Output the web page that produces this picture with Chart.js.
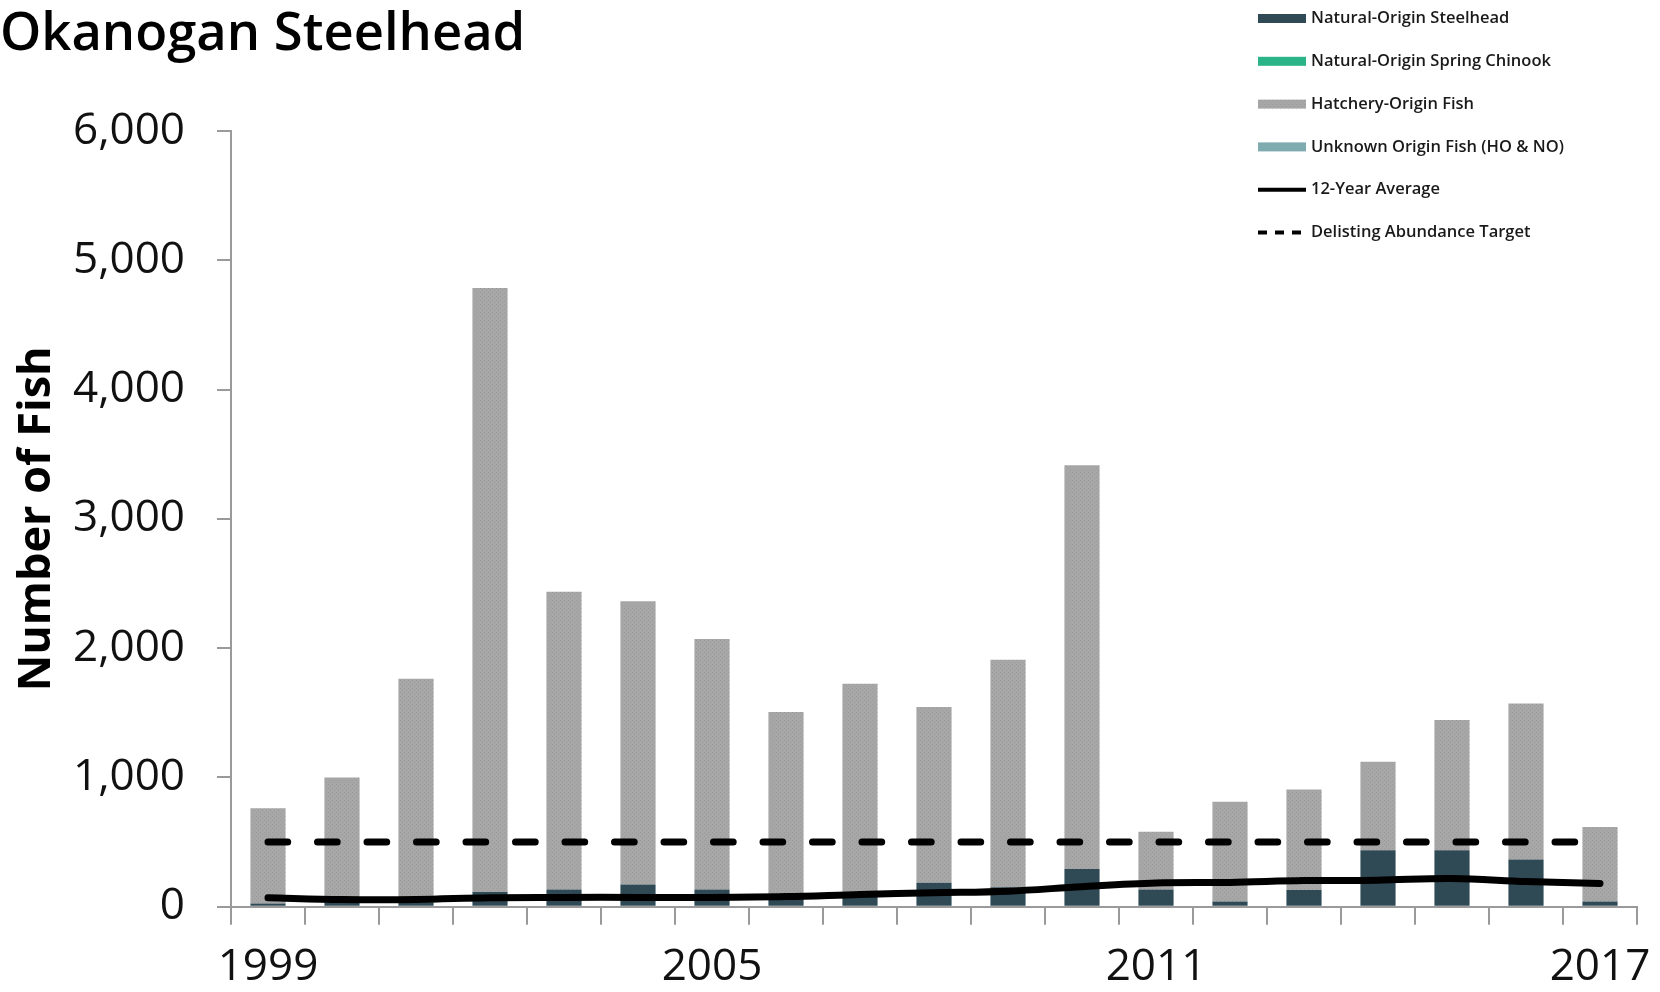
<!DOCTYPE html>
<html>
<head>
<meta charset="utf-8">
<title>Okanogan Steelhead</title>
<script src="https://cdn.jsdelivr.net/npm/chart.js@4.4.0/dist/chart.umd.min.js"></script>
<style>
  html, body { margin: 0; padding: 0; background: #fff; }
  #wrap { position: relative; width: 1660px; height: 992px; }
</style>
</head>
<body>
<div id="wrap"><canvas id="fishChart"></canvas></div>
<script>
// values
const years = ['1999', '2000', '2001', '2002', '2003', '2004', '2005', '2006', '2007', '2008',
  '2009', '2010', '2011', '2012', '2013', '2014', '2015', '2016', '2017'];
const shownYears = ['1999', '2005', '2011', '2017'];

const naturalSteelhead = [25, 30, 30, 114, 133, 172, 133, 80, 100, 185, 150, 292, 133, 41, 130, 436, 436, 365, 41];
const naturalChinook = [0, 0, 0, 0, 0, 0, 0, 0, 0, 0, 0, 0, 0, 0, 0, 0, 0, 0, 0];
const hatcheryOrigin = [737, 970, 1734, 4671, 2304, 2191, 1938, 1426, 1624, 1359, 1760, 3123, 447, 770, 776, 686, 1008, 1206, 576];
const unknownOrigin = [0, 0, 0, 0, 0, 0, 0, 0, 0, 0, 0, 0, 0, 0, 0, 0, 0, 0, 0];
const twelveYearAverage = [69, 55, 55, 70, 72, 72, 72, 78, 95, 108, 120, 155, 183, 188, 202, 205, 218, 195, 180];
const delistingTarget = [500, 500, 500, 500, 500, 500, 500, 500, 500, 500, 500, 500, 500, 500, 500, 500, 500, 500, 500];

Chart.defaults.font.family = "'Open Sans', 'DejaVu Sans', sans-serif";
Chart.defaults.color = '#111';

// stippled grey like the print version
function stipple() {
  const c = document.createElement('canvas');
  c.width = 4; c.height = 4;
  const g = c.getContext('2d');
  g.fillStyle = '#a7a7a7';
  g.fillRect(0, 0, 4, 4);
  g.fillStyle = '#9a9a9a';
  g.fillRect(0, 0, 1, 1);
  g.fillRect(2, 2, 1, 1);
  return g.createPattern(c, 'repeat');
}
const greyFill = stipple();

// legend drawn top-right, over the plot, one entry per row
const rowLegend = {
  id: 'rowLegend',
  afterDraw(chart) {
    const ctx = chart.ctx;
    const x = 1258, y0 = 18.5, step = 42.8;
    ctx.save();
    chart.data.datasets.forEach((ds, i) => {
      const y = y0 + i * step;
      if (ds.type === 'line') {
        ctx.strokeStyle = ds.borderColor;
        ctx.lineWidth = 4;
        ctx.setLineDash(ds.legendDash || []);
        ctx.beginPath();
        ctx.moveTo(x, y);
        ctx.lineTo(x + 48, y);
        ctx.stroke();
        ctx.setLineDash([]);
      } else {
        ctx.fillStyle = ds.backgroundColor;
        ctx.fillRect(x, y - 4.5, 48, 9);
      }
      ctx.fillStyle = '#1a1a1a';
      ctx.font = "600 16.5px 'Open Sans'";
      ctx.textBaseline = 'middle';
      ctx.textAlign = 'left';
      ctx.fillText(ds.label, x + 53, y);
    });
    ctx.restore();
  }
};

new Chart(document.getElementById('fishChart'), {
  type: 'bar',
  data: {
    labels: years,
    datasets: [
      { label: 'Natural-Origin Steelhead', data: naturalSteelhead, backgroundColor: '#2f4955', stack: 'fish', order: 1 },
      { label: 'Natural-Origin Spring Chinook', data: naturalChinook, backgroundColor: '#2bb487', stack: 'fish', order: 1 },
      { label: 'Hatchery-Origin Fish', data: hatcheryOrigin, backgroundColor: greyFill, stack: 'fish', order: 1 },
      { label: 'Unknown Origin Fish (HO & NO)', data: unknownOrigin, backgroundColor: '#7eabb0', stack: 'fish', order: 1 },
      {
        type: 'line', label: '12-Year Average', data: twelveYearAverage, stack: 'avg', order: 0,
        borderColor: '#000', borderWidth: 7, borderCapStyle: 'round', tension: 0.35,
        pointRadius: 0, fill: false
      },
      {
        type: 'line', label: 'Delisting Abundance Target', data: delistingTarget, stack: 'target', order: 0,
        borderColor: '#000', borderWidth: 7, borderDash: [19.7, 29.8], borderCapStyle: 'round',
        pointRadius: 0, fill: false, legendDash: [9, 8]
      }
    ]
  },
  options: {
    responsive: true,
    maintainAspectRatio: false,
    animation: false,
    layout: { padding: { left: 0, right: 23, top: 0, bottom: 0 } },
    datasets: {
      bar: { barPercentage: 0.475, categoryPercentage: 1, borderWidth: 0 }
    },
    plugins: {
      legend: { display: false },
      tooltip: { enabled: false },
      title: {
        display: true,
        text: 'Okanogan Steelhead',
        align: 'start',
        color: '#000',
        font: { size: 52.5, weight: '600', lineHeight: 1 },
        padding: { top: 9, bottom: 69.5 }
      }
    },
    scales: {
      x: {
        stacked: true,
        grid: { offset: true, drawOnChartArea: false, tickLength: 18, color: '#9a9a9a', lineWidth: 2 },
        border: { color: '#9a9a9a', width: 2 },
        ticks: {
          autoSkip: false,
          maxRotation: 0,
          padding: 16,
          color: '#111',
          font: { size: 44, weight: '500' },
          callback: function (value, index) {
            const lbl = years[index];
            return shownYears.includes(lbl) ? lbl : '';
          }
        },
        afterFit: function (axis) {
          axis.height = 85.3;
          axis.paddingLeft = 0;
          axis.paddingRight = 0;
        }
      },
      y: {
        stacked: true,
        min: 0,
        max: 6000,
        grid: { drawOnChartArea: false, tickLength: 14, color: '#9a9a9a', lineWidth: 2 },
        border: { color: '#9a9a9a', width: 2 },
        ticks: {
          stepSize: 1000,
          padding: 32,
          color: '#111',
          font: { size: 44, weight: '500' },
          callback: v => v.toLocaleString('en-US')
        },
        title: {
          display: true,
          text: 'Number of Fish',
          color: '#000',
          font: { size: 45, weight: 'bold', lineHeight: 1.2 },
          padding: { top: 10, bottom: 0 }
        },
        afterFit: function (axis) {
          axis.width = 231;
          axis.paddingTop = 0;
          axis.paddingBottom = 0;
        }
      }
    }
  },
  plugins: [rowLegend]
});
</script>
</body>
</html>
